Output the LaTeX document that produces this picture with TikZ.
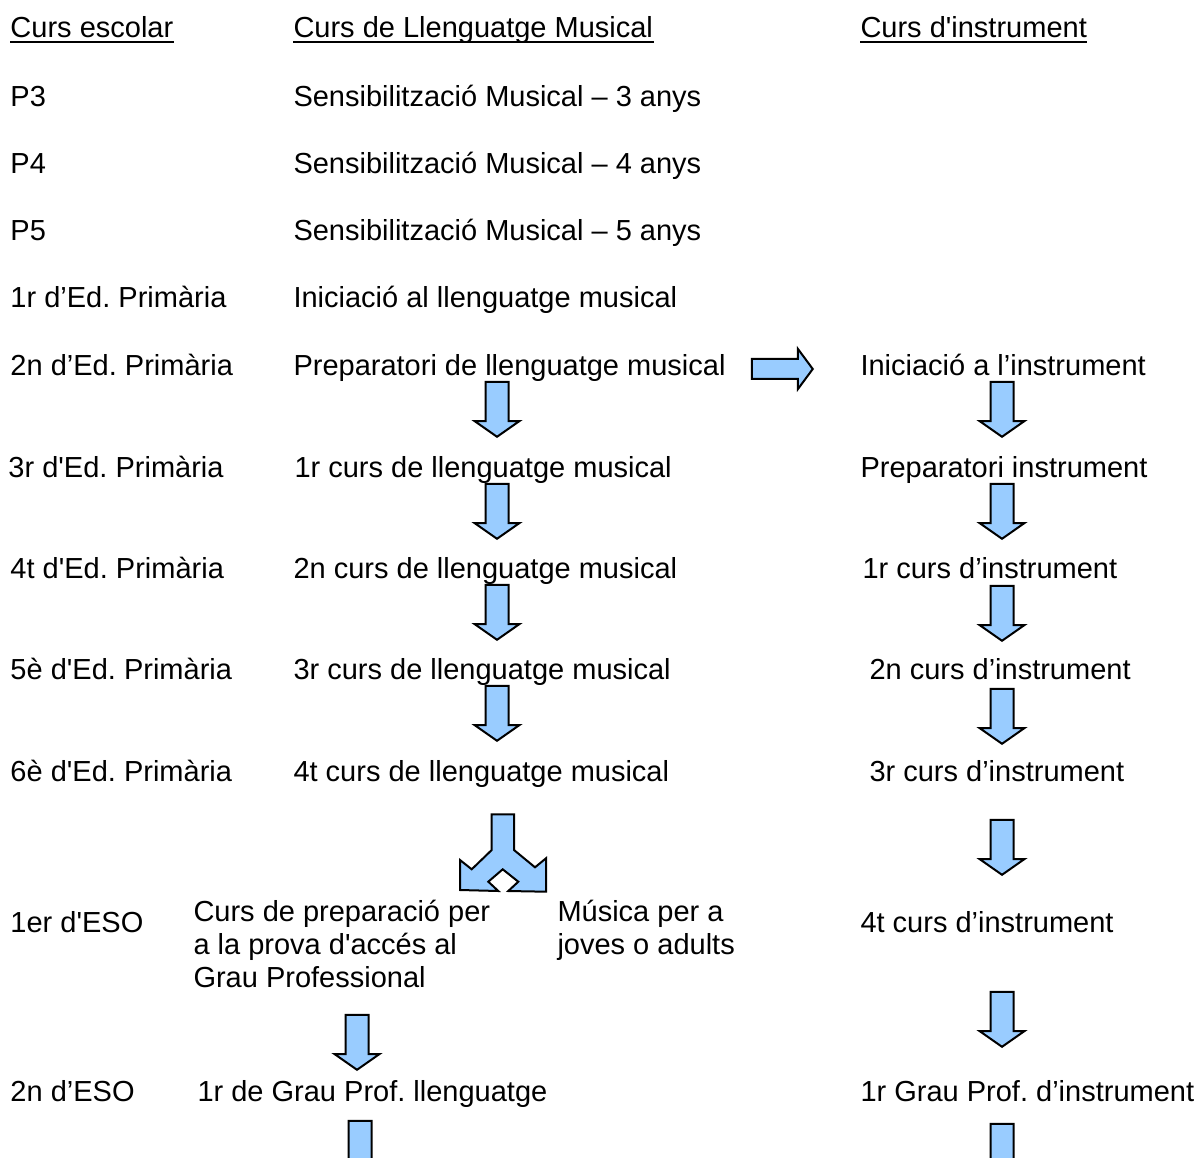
\documentclass[tikz,border=0pt]{standalone}
\usepackage{fontspec}
\setmainfont{Liberation Sans}
\usetikzlibrary{shapes.arrows}
\definecolor{arrowblue}{HTML}{99CCFF}
\frenchspacing

\begin{document}
\begin{tikzpicture}[x=0.4pt, y=-0.4pt,
    txt/.style = {anchor=base west, inner sep=0pt, align=left, font=\fontsize{11.6}{13.2}\selectfont},
    downarr/.style = {single arrow, draw, fill=arrowblue, line width=0.8pt, rotate=-90, anchor=tip, minimum height=22pt, inner sep=4.2pt, single arrow head extend=4.4pt, single arrow tip angle=110},
    rightarr/.style = {single arrow, draw, fill=arrowblue, line width=0.8pt, anchor=tip, minimum height=24.4pt, inner sep=3.6pt, single arrow head extend=4pt, single arrow tip angle=107}]
    \useasboundingbox (0,0) rectangle (1203,1157);
    \clip (0,0) rectangle (1203,1157);
    % headers
    \node[txt] (hesc) at (10,38) {Curs escolar};
    \node[txt] (hllm) at (293,38) {Curs de Llenguatge Musical};
    \node[txt] (hins) at (860,38) {Curs d\textquotesingle instrument};
    \draw[line width=0.8pt] ([yshift=-1.6pt]hesc.base west) -- ([yshift=-1.6pt]hesc.base east);
    \draw[line width=0.8pt] ([yshift=-1.6pt]hllm.base west) -- ([yshift=-1.6pt]hllm.base east);
    \draw[line width=0.8pt] ([yshift=-1.6pt]hins.base west) -- ([yshift=-1.6pt]hins.base east);
    % curs escolar
    \node[txt] (p3) at (10,107) {P3};
    \node[txt] (p4) at (10,174) {P4};
    \node[txt] (p5) at (10,241) {P5};
    \node[txt] (ep1) at (10,308) {1r d’Ed. Primària};
    \node[txt] (ep2) at (10,376) {2n d’Ed. Primària};
    \node[txt] (ep3) at (8,477) {3r d\textquotesingle Ed. Primària};
    \node[txt] (ep4) at (10,578) {4t d\textquotesingle Ed. Primària};
    \node[txt] (ep5) at (10,679) {5è d\textquotesingle Ed. Primària};
    \node[txt] (ep6) at (10,781) {6è d\textquotesingle Ed. Primària};
    \node[txt] (eso1) at (10,932) {1er d\textquotesingle ESO};
    \node[txt] (eso2) at (10,1101) {2n d’ESO};
    % llenguatge musical
    \node[txt] (sm3) at (293,107) {Sensibilització Musical – 3 anys};
    \node[txt] (sm4) at (293,174) {Sensibilització Musical – 4 anys};
    \node[txt] (sm5) at (293,241) {Sensibilització Musical – 5 anys};
    \node[txt] (inilm) at (293,308) {Iniciació al llenguatge musical};
    \node[txt] (prelm) at (293,376) {Preparatori de llenguatge musical};
    \node[txt] (lm1) at (294,477) {1r curs de llenguatge musical};
    \node[txt] (lm2) at (293,578) {2n curs de llenguatge musical};
    \node[txt] (lm3) at (293,679) {3r curs de llenguatge musical};
    \node[txt] (lm4) at (293,781) {4t curs de llenguatge musical};
    \node[txt] (prova) at (193,987) {Curs de preparació per\\a la prova d\textquotesingle accés al\\Grau Professional};
    \node[txt] (adults) at (557,954) {Música per a\\joves o adults};
    \node[txt] (gplm) at (197,1101) {1r de Grau Prof. llenguatge};
    % instrument
    \node[txt] (iniins) at (860,376) {Iniciació a l’instrument};
    \node[txt] (preins) at (860,477) {Preparatori instrument};
    \node[txt] (ins1) at (862,578) {1r curs d’instrument};
    \node[txt] (ins2) at (869,679) {2n curs d’instrument};
    \node[txt] (ins3) at (869,781) {3r curs d’instrument};
    \node[txt] (ins4) at (860,932) {4t curs d’instrument};
    \node[txt] (gpins) at (860,1101) {1r Grau Prof. d’instrument};
    % fletxes
    \node[rightarr] (arprev) at (814,369) {};
    \node[downarr] (arlm1) at (497,438) {};
    \node[downarr] (arlm2) at (497,540) {};
    \node[downarr] (arlm3) at (497,641) {};
    \node[downarr] (arlm4) at (497,742) {};
    \node[downarr] (arprova) at (357,1071) {};
    \node[downarr] (argplm) at (360,1177) {};
    \node[downarr] (arins1) at (1002,438) {};
    \node[downarr] (arins2) at (1002,540) {};
    \node[downarr] (arins3) at (1002,642) {};
    \node[downarr] (arins4) at (1002,745) {};
    \node[downarr] (arins5) at (1002,876) {};
    \node[downarr] (arins6) at (1002,1048) {};
    \node[downarr] (arins7) at (1002,1180) {};
    % fletxa doble
    \draw[fill=arrowblue, line width=0.8pt, line join=miter] (491.7,814.3) -- (514,814.3) -- (514,850) -- (535,867.3) -- (546,858.3) -- (546,891.7) -- (508.3,891) -- (518.3,881.7) -- (502.7,869.3) -- (488.3,881.7) -- (498.3,891) -- (460,890) -- (460,860) -- (471.7,869.3) -- (491.7,850) -- cycle;
\end{tikzpicture}
\end{document}
